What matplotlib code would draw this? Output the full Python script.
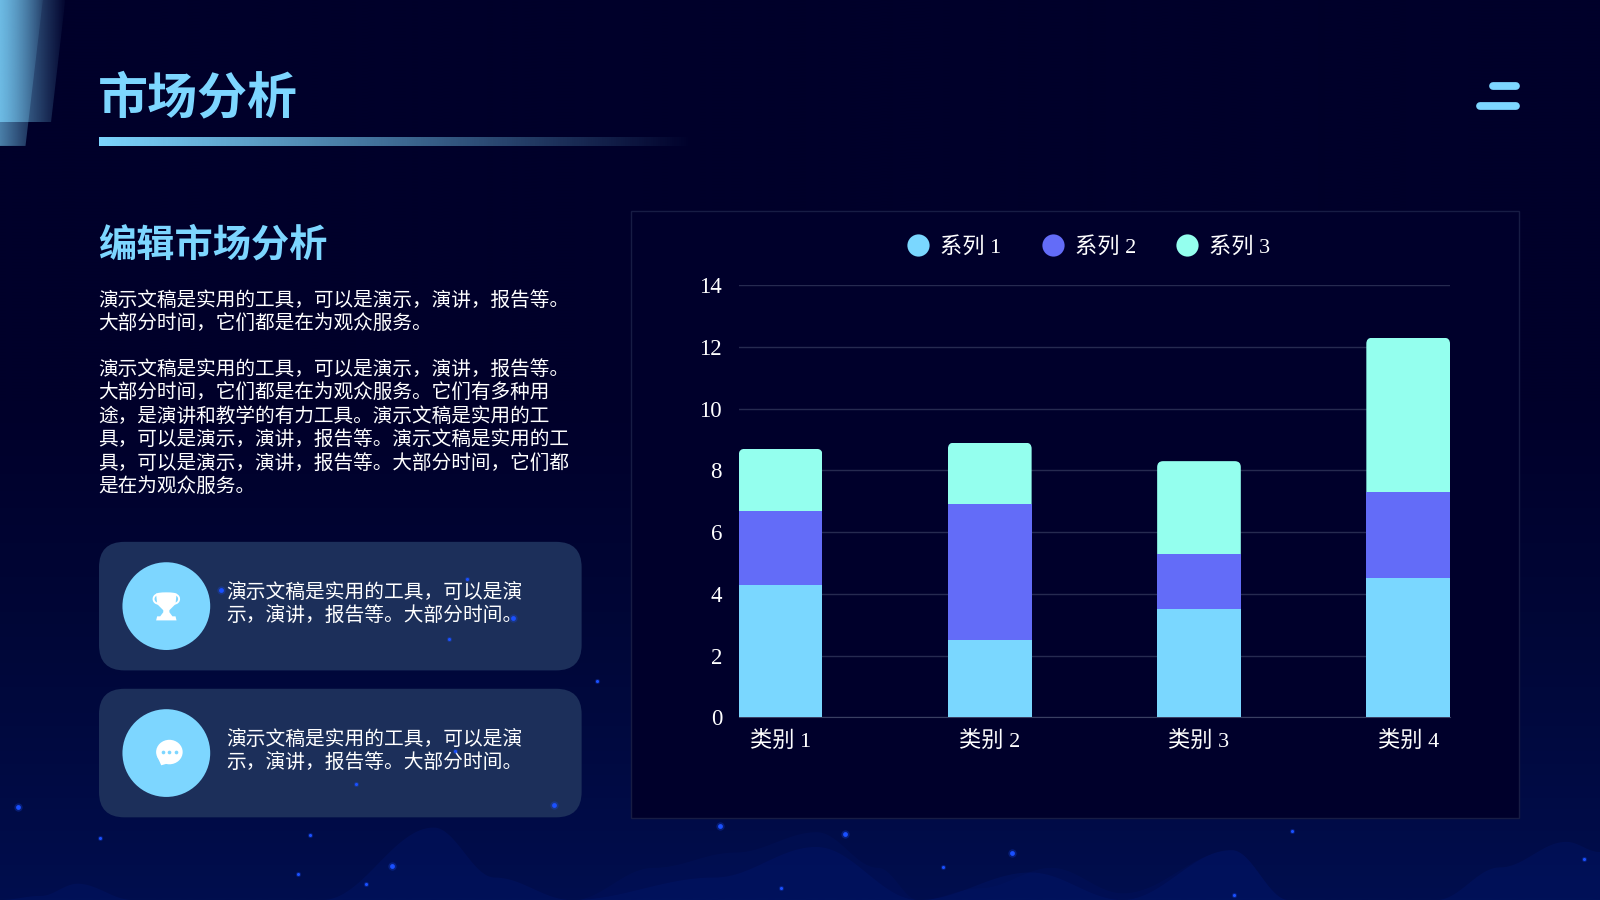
import matplotlib
matplotlib.use("Agg")
import matplotlib.pyplot as plt
import matplotlib.patches as mpatches
from matplotlib.lines import Line2D
from matplotlib.transforms import IdentityTransform
import numpy as np

categories = ["类别 1", "类别 2", "类别 3", "类别 4"]
series_names = ["系列 1", "系列 2", "系列 3"]
series_1 = [4.3, 2.5, 3.5, 4.5]
series_2 = [2.4, 4.4, 1.8, 2.8]
series_3 = [2.0, 2.0, 3.0, 5.0]
y_ticks = [0, 2, 4, 6, 8, 10, 12, 14]

title = "市场分析"
subtitle = "编辑市场分析"
body_1 = ["演示文稿是实用的工具\uff0c可以是演示\uff0c演讲\uff0c报告等。", "大部分时间\uff0c它们都是在为观众服务。"]
body_2 = [
    "演示文稿是实用的工具\uff0c可以是演示\uff0c演讲\uff0c报告等。",
    "大部分时间\uff0c它们都是在为观众服务。它们有多种用",
    "途\uff0c是演讲和教学的有力工具。演示文稿是实用的工",
    "具\uff0c可以是演示\uff0c演讲\uff0c报告等。演示文稿是实用的工",
    "具\uff0c可以是演示\uff0c演讲\uff0c报告等。大部分时间\uff0c它们都",
    "是在为观众服务。",
]
card_text = ["演示文稿是实用的工具\uff0c可以是演", "示\uff0c演讲\uff0c报告等。大部分时间。"]

LIGHT = "#7dd6ff"
COLORS = ["#7ad7ff", "#636cf8", "#94ffee"]
CJK = "Noto Sans CJK SC"
W, H = 1568, 882

plt.rcParams["font.family"] = [CJK, "DejaVu Sans"]
fig = plt.figure(figsize=(16, 9), dpi=100)

# page layer, drawn in reference pixels
bg = fig.add_axes([0, 0, 1, 1], zorder=0)
bg.set_xlim(0, W)
bg.set_ylim(H, 0)
bg.axis("off")

ys = np.linspace(0, 1, 300)
stops_y = [0, 0.45, 0.68, 0.85, 1]
rgb = np.column_stack([
    np.interp(ys, stops_y, [0, 0, 0, 0, 0]),
    np.interp(ys, stops_y, [0, 0, 6, 10, 14]),
    np.interp(ys, stops_y, [42, 42, 54, 66, 78]),
]) / 255
bg.imshow(rgb[:, None, :], extent=[0, W, H, 0], aspect="auto", zorder=0)


def wave(px, py, color, alpha):
    # cosine smoothing between the control points
    xs, out = [], []
    for i in range(len(px) - 1):
        t = np.linspace(0, 1, 40)
        xs.extend(px[i] + (px[i + 1] - px[i]) * t)
        out.extend(py[i] + (py[i + 1] - py[i]) * (1 - np.cos(np.pi * t)) / 2)
    bg.fill_between(xs, out, H, color=color, alpha=alpha, lw=0, zorder=1)


wave([0, 40, 76, 130, 220, 316, 425, 485, 560, 700, 800, 900, 1010, 1100, 1207, 1263, 1334, 1408, 1470, 1535, 1568],
     [882, 878, 866, 882, 882, 882, 811, 860, 882, 860, 830, 882, 855, 882, 833, 882, 882, 882, 850, 825, 835],
     "#001a78", 0.25)
wave([560, 640, 720, 800, 860, 900, 960, 1030, 1100, 1207, 1263],
     [882, 850, 835, 815, 850, 882, 870, 850, 875, 833, 882],
     "#001a78", 0.15)


def gradient(verts, c0, a0, a1, zorder=2):
    r, g, b = matplotlib.colors.to_rgb(c0)
    vx = [v[0] for v in verts]
    vy = [v[1] for v in verts]
    arr = np.zeros((1, 256, 4))
    arr[..., 0], arr[..., 1], arr[..., 2] = r, g, b
    arr[..., 3] = np.linspace(a0, a1, 256)
    im = bg.imshow(arr, extent=[min(vx), max(vx), max(vy), min(vy)], aspect="auto", zorder=zorder)
    poly = mpatches.Polygon(verts, transform=bg.transData, fc="none", ec="none")
    bg.add_patch(poly)
    im.set_clip_path(poly)


# corner shapes and title rule
gradient([(0, 0), (64, 0), (50, 120), (0, 120)], LIGHT, 0.7, 0.02)
gradient([(0, 0), (42, 0), (25, 143), (0, 143)], LIGHT, 0.6, 0.08)
gradient([(97, 134), (680, 134), (680, 143), (97, 143)], LIGHT, 1.0, 0.0)
bg.set_xlim(0, W)
bg.set_ylim(H, 0)

bg.text(96, 97, title, color=LIGHT, fontsize=36, fontweight=900, va="center", ha="left")
bg.text(96, 240, subtitle, color=LIGHT, fontsize=27.5, fontweight=900, va="center", ha="left")

for i, line in enumerate(body_1):
    bg.text(96, 294 + i * 23, line, color="white", fontsize=14.15, va="center", ha="left")
for i, line in enumerate(body_2):
    bg.text(96, 362 + i * 23, line, color="white", fontsize=14.15, va="center", ha="left")

# menu glyph top right
bg.plot([1463, 1486], [84, 84], color=LIGHT, lw=5.6, solid_capstyle="round")
bg.plot([1450, 1486], [104, 104], color=LIGHT, lw=5.6, solid_capstyle="round")

# cards
for top in [531, 675]:
    bg.add_patch(mpatches.FancyBboxPatch((97 + 25, top + 25), 473 - 50, 126 - 50,
                                         boxstyle="round,pad=25,rounding_size=25",
                                         fc="#1c2f5a", ec="none", zorder=3))
    bg.add_patch(mpatches.Circle((163, top + 63), 43, fc=LIGHT, ec="none", zorder=4))
    for i, line in enumerate(card_text):
        bg.text(222, top + 50 + i * 23, line, color="white", fontsize=14.2, va="center", ha="left", zorder=5)

# trophy
bg.add_patch(mpatches.Polygon([(153, 582), (173, 582), (172, 592), (166, 598), (166, 600), (169, 604),
                               (172, 604), (173, 608), (153, 608), (154, 604), (157, 604), (160, 600),
                               (160, 598), (154, 592)], fc="white", ec="none", zorder=5))
bg.add_patch(mpatches.Ellipse((163, 582), 20, 3, fc="white", ec="none", zorder=5))
bg.add_patch(mpatches.Arc((155, 587), 9, 9, theta1=60, theta2=260, ec="white", lw=1.4, zorder=5))
bg.add_patch(mpatches.Arc((171, 587), 9, 9, theta1=-80, theta2=120, ec="white", lw=1.4, zorder=5))

# chat bubble
bg.add_patch(mpatches.Ellipse((166, 737), 26, 24, fc="white", ec="none", zorder=5))
bg.add_patch(mpatches.Polygon([(154, 741), (158, 750), (165, 748)], fc="white", ec="none", zorder=5))
bg.scatter([160, 166, 172], [737, 737, 737], s=7, color=LIGHT, zorder=6, lw=0)

# chart panel
bg.add_patch(mpatches.Rectangle((618.5, 206.5), 870, 595, fc="#00002b", ec="#171c44", lw=1, zorder=2))

# chart
ax = fig.add_axes([724 / W, 1 - 703 / H, (1421 - 724) / W, (703 - 279.5) / H], zorder=2)
ax.patch.set_alpha(0)
x = np.arange(len(categories))
s1 = np.array(series_1)
s2 = np.array(series_2)
s3 = np.array(series_3)
ax.bar(x, s1, width=0.4, color=COLORS[0], zorder=3)
ax.bar(x, s2, width=0.4, bottom=s1, color=COLORS[1], zorder=3)
tops = ax.bar(x, s3, width=0.4, bottom=s1 + s2, color=COLORS[2], zorder=3)
ax.set_xlim(-0.2, 3.2)
ax.set_ylim(0, 14)
ax.set_xticks(x)
ax.set_xticklabels(categories)
ax.set_yticks(y_ticks)
ax.grid(axis="y", color="#262a50", lw=1, zorder=1)
ax.set_axisbelow(True)
for name in ["top", "left", "right"]:
    ax.spines[name].set_visible(False)
ax.spines["bottom"].set_color("#3a3f62")
mixed = ["Liberation Serif", CJK]
ax.tick_params(axis="x", length=0, colors="white", labelsize=16, pad=10)
ax.tick_params(axis="y", length=0, colors="white", labelsize=16.5, pad=12)
for label in ax.get_xticklabels() + ax.get_yticklabels():
    label.set_family(mixed)

# round the top corners of the stacks
for bar in tops:
    (x0, y0), (x1, y1) = ax.transData.transform([(bar.get_x(), bar.get_y()),
                                                 (bar.get_x() + bar.get_width(), bar.get_y() + bar.get_height())])
    r = 6
    clip = mpatches.FancyBboxPatch((x0 + r, y0 - 20), x1 - x0 - 2 * r, y1 - y0 + 20 - r,
                                   boxstyle=f"round,pad={r},rounding_size={r}",
                                   transform=IdentityTransform(), fc="none", ec="none")
    bar.set_clip_path(clip)

handles = [Line2D([], [], ls="none", marker="o", ms=16, mfc=c, mec="none", label=n)
           for c, n in zip(COLORS, series_names)]
leg = ax.legend(handles=handles, ncols=3, frameon=False, loc="center",
                bbox_to_anchor=((1067 - 724) / (1421 - 724), 1 + (279.5 - 242) / (703 - 279.5)),
                prop={"family": mixed, "size": 16}, labelcolor="white",
                handlelength=1.0, handletextpad=0.5, columnspacing=1.8, borderpad=0)

# glow dots sit over the text
fx = fig.add_axes([0, 0, 1, 1], zorder=3)
fx.set_xlim(0, W)
fx.set_ylim(H, 0)
fx.axis("off")
big_x = [217, 503, 543, 706, 828, 992, 384, 18]
big_y = [578, 606, 789, 809, 817, 836, 849, 791]
small_x = [458, 440, 446, 349, 585, 98, 304, 292, 359, 924, 1266, 1552, 1209, 765]
small_y = [567, 626, 736, 768, 667, 821, 818, 857, 866, 850, 814, 842, 877, 870]
fx.scatter(big_x, big_y, s=36, color="#1a50ff", alpha=0.25, lw=0)
fx.scatter(big_x, big_y, s=12, color="#1a50ff", lw=0)
fx.scatter(small_x, small_y, s=14, color="#1a50ff", alpha=0.25, lw=0)
fx.scatter(small_x, small_y, s=5, color="#1a50ff", lw=0)

fig.savefig("out.png", dpi=100, facecolor="#00002a")
